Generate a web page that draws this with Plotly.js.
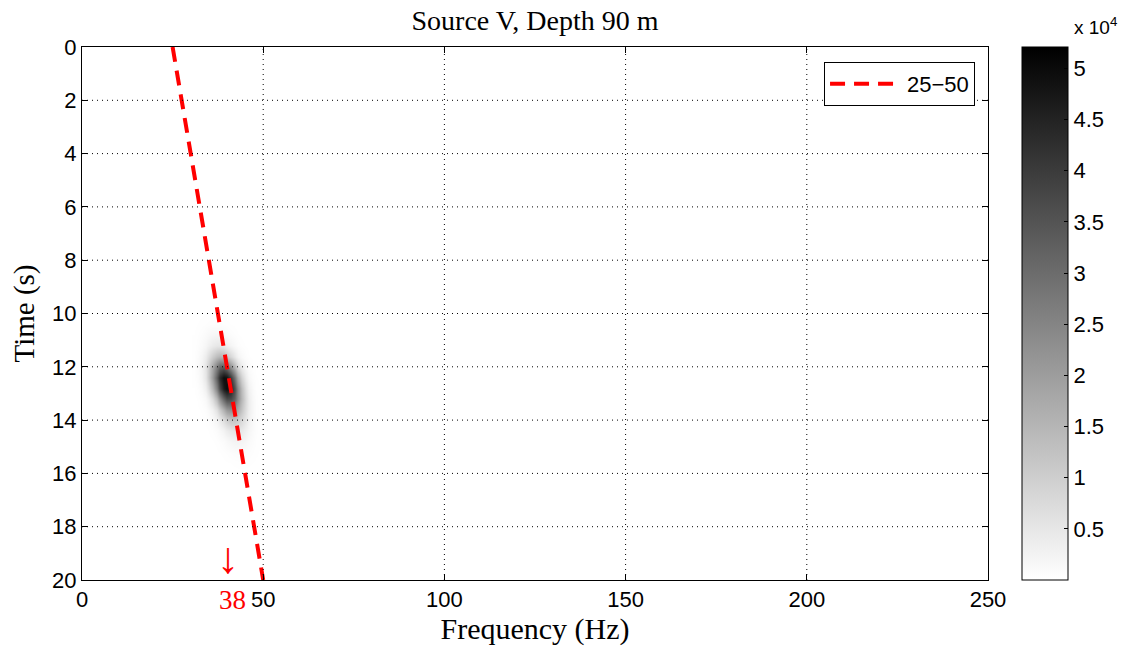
<!DOCTYPE html>
<html>
<head>
<meta charset="utf-8">
<script src="https://cdn.plot.ly/plotly-3.0.1.min.js"></script>
<style>
  html, body { margin: 0; padding: 0; background: #fff; }
  #chart { width: 1130px; height: 651px; }
</style>
</head>
<body>
<div id="chart"></div>
<script>
// ---- data ----
const titleText = "Source V, Depth 90 m";
const xTitle = "Frequency (Hz)";
const yTitle = "Time (s)";
const xTicks = [0, 50, 100, 150, 200, 250];
const yTicks = [0, 2, 4, 6, 8, 10, 12, 14, 16, 18, 20];
const cbTickVals = [5000, 10000, 15000, 20000, 25000, 30000, 35000, 40000, 45000, 50000];
const cbTickText = ["0.5", "1", "1.5", "2", "2.5", "3", "3.5", "4", "4.5", "5"];
const zMax = 52100;

// spectrogram energy, grid of frequency (Hz) x time (s)
const specFreq = [31, 32, 33, 34, 35, 36, 37, 38, 39, 40, 41, 42, 43, 44, 45, 46, 47, 48, 49, 50];
const specTime = [9.6, 10.0, 10.4, 10.8, 11.2, 11.6, 12.0, 12.4, 12.8, 13.2, 13.6, 14.0, 14.4, 14.8, 15.2, 15.6, 16.0];
const specEnergy = [
  [0, 0, 0, 0, 0, 0, 0, 0, 0, 0, 0, 0, 0, 0, 0, 0, 0, 0, 0, 0],
  [15, 30, 52, 75, 94, 100, 90, 70, 46, 26, 12, 5, 2, 0, 0, 0, 0, 0, 0, 0],
  [42, 92, 173, 278, 380, 443, 439, 372, 268, 165, 86, 38, 15, 5, 1, 0, 0, 0, 0, 0],
  [98, 237, 489, 861, 1292, 1652, 1800, 1671, 1321, 891, 511, 250, 104, 37, 11, 3, 0, 0, 0, 0],
  [151, 401, 910, 1758, 2894, 4059, 4851, 4941, 4289, 3172, 1998, 1074, 491, 192, 64, 18, 4, 0, 0, 0],
  [238, 696, 1731, 3669, 6629, 10200, 13380, 14950, 14240, 11560, 7995, 4711, 2366, 1012, 369, 115, 30, 7, 0, 0],
  [262, 838, 2291, 5326, 10550, 17820, 25650, 31450, 32870, 29270, 22210, 14360, 7913, 3716, 1486, 507, 147, 36, 8, 0],
  [188, 659, 1976, 5041, 10970, 20320, 32080, 43170, 49500, 48360, 40270, 28570, 17280, 8901, 3909, 1461, 465, 126, 29, 6],
  [84, 325, 1067, 2986, 7130, 14490, 25100, 37060, 46620, 49980, 45660, 35550, 23580, 13330, 6425, 2637, 922, 275, 70, 15],
  [27, 115, 415, 1273, 3333, 7435, 14140, 22910, 31630, 37200, 37290, 31860, 23180, 14380, 7604, 3422, 1314, 430, 120, 28],
  [7, 31, 121, 411, 1177, 2882, 6013, 10690, 16190, 20900, 22980, 21540, 17200, 11710, 6789, 3357, 1413, 507, 155, 40],
  [1, 6, 28, 104, 325, 873, 2000, 3902, 6488, 9187, 11090, 11400, 9993, 7463, 4749, 2574, 1190, 469, 157, 45],
  [0, 1, 6, 24, 82, 240, 604, 1293, 2356, 3662, 4849, 5471, 5261, 4311, 3010, 1791, 908, 393, 144, 45],
  [0, 0, 1, 4, 17, 55, 151, 355, 709, 1209, 1757, 2175, 2295, 2063, 1581, 1032, 574, 272, 110, 38],
  [0, 0, 0, 0, 3, 10, 30, 77, 168, 315, 502, 682, 789, 778, 654, 469, 286, 149, 66, 25],
  [0, 0, 0, 0, 0, 0, 4, 11, 27, 56, 98, 145, 185, 200, 184, 145, 97, 55, 27, 11],
  [0, 0, 0, 0, 0, 0, 0, 0, 0, 0, 0, 0, 0, 0, 0, 0, 0, 0, 0, 0]
];

// dashed reference line "25-50"
const lineName = "25\u221250";
const lineFreq = [25, 50];
const lineTime = [0, 20];

// marked frequency
const markFreq = 38;
const markLabel = "38";

// ---- plot ----
const sansFamily = "Liberation Sans, Arial, Helvetica, sans-serif";
const serifFamily = "Liberation Serif, Times New Roman, serif";

const heat = {
  type: "heatmap",
  x: specFreq,
  y: specTime,
  z: specEnergy,
  zmin: 0,
  zmax: zMax,
  zsmooth: "best",
  colorscale: [[0, "rgb(255,255,255)"], [1, "rgb(0,0,0)"]],
  showlegend: false,
  hoverinfo: "skip",
  colorbar: {
    x: 1.0375, xanchor: "left", xpad: 0,
    y: 0.5, yanchor: "middle", ypad: 0,
    len: 1, lenmode: "fraction",
    thickness: 46,
    outlinewidth: 1, outlinecolor: "#000",
    ticks: "inside", ticklen: 4, tickcolor: "#000",
    tickvals: cbTickVals, ticktext: cbTickText,
    tickfont: { family: sansFamily, size: 22, color: "#000" }
  }
};

const line = {
  type: "scatter",
  mode: "lines",
  x: lineFreq,
  y: lineTime,
  name: lineName,
  showlegend: true,
  line: { color: "rgb(255,0,0)", width: 4, dash: "15px,9px" },
  hoverinfo: "skip"
};

// dotted grid drawn above the image (as MATLAB does), at the tick positions
const gridStyle = { color: "#000", width: 1, dash: "1px,4px" };
const gridShapes = []
  .concat(xTicks.slice(1, -1).map(v => ({
    type: "line", xref: "x", yref: "paper", x0: v, x1: v, y0: 0, y1: 1,
    line: gridStyle, layer: "above"
  })))
  .concat(yTicks.slice(1, -1).map(v => ({
    type: "line", xref: "paper", yref: "y", x0: 0, x1: 1, y0: v, y1: v,
    line: gridStyle, layer: "above"
  })));

const axisFont = { family: sansFamily, size: 22, color: "#000" };

const layout = {
  width: 1130, height: 651,
  margin: { l: 82, r: 142, t: 47, b: 71 },
  paper_bgcolor: "#fff", plot_bgcolor: "#fff",
  showlegend: true,
  title: { text: titleText, font: { family: serifFamily, size: 28, color: "#000" },
           x: 0.4735, xanchor: "center", y: 0.969, yanchor: "middle" },
  xaxis: {
    range: [0, 250], tickvals: xTicks, ticktext: xTicks.map(String),
    ticks: "inside", ticklen: 6, tickcolor: "#000",
    showline: true, linecolor: "#000", linewidth: 1, mirror: "ticks",
    showgrid: false, layer: "above traces",
    zeroline: false, tickfont: axisFont,
    title: { text: xTitle, font: { family: serifFamily, size: 30, color: "#000" }, standoff: 6 }
  },
  yaxis: {
    range: [20, 0], tickvals: yTicks, ticktext: yTicks.map(String),
    ticks: "inside", ticklen: 6, tickcolor: "#000",
    showline: true, linecolor: "#000", linewidth: 1, mirror: "ticks",
    showgrid: false, layer: "above traces",
    zeroline: false, tickfont: axisFont,
    title: { text: yTitle, font: { family: serifFamily, size: 29, color: "#000" }, standoff: 8 }
  },
  shapes: gridShapes,
  legend: {
    x: 0.9857, xanchor: "right", y: 0.972, yanchor: "top",
    bgcolor: "#fff", bordercolor: "#000", borderwidth: 1,
    font: { family: sansFamily, size: 22, color: "#000" },
    itemwidth: 72
  },
  annotations: [
    { xref: "paper", yref: "paper", x: 1.119, y: 1.013, xanchor: "center", yanchor: "bottom",
      text: "x 10<sup>4</sup>", showarrow: false,
      font: { family: sansFamily, size: 19, color: "#000" } },
    { xref: "x", yref: "paper", x: markFreq, y: 0.041, xanchor: "left", yanchor: "middle",
      xshift: -5,
      text: "\u2193", showarrow: false,
      font: { family: serifFamily, size: 44, color: "rgb(255,0,0)" } },
    { xref: "x", yref: "paper", x: markFreq, y: -0.0375, xanchor: "left", yanchor: "middle",
      xshift: -3,
      text: markLabel, showarrow: false,
      font: { family: serifFamily, size: 27, color: "rgb(255,0,0)" } }
  ]
};

Plotly.newPlot("chart", [heat, line], layout, { displayModeBar: false, staticPlot: true });
</script>
</body>
</html>
